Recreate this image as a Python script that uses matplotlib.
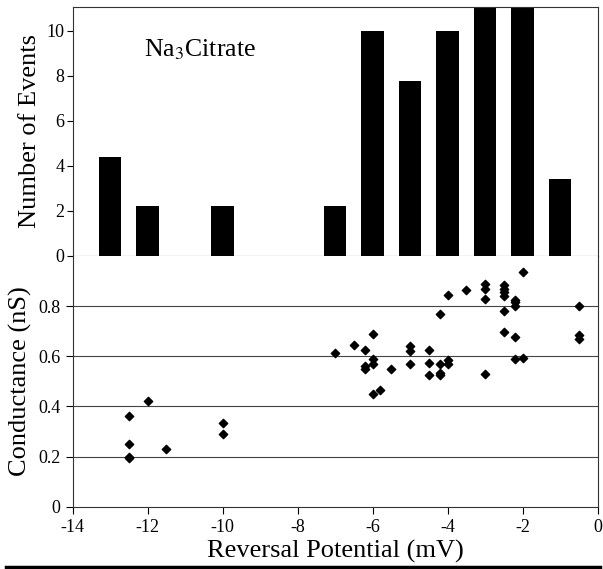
import matplotlib
matplotlib.use("Agg")
import matplotlib.pyplot as plt
from matplotlib.lines import Line2D

plt.rcParams['font.family'] = ['Liberation Serif', 'DejaVu Serif']
plt.rcParams['axes.unicode_minus'] = False

# Histogram data
bin_centers = [-13, -12, -10, -7, -6, -5, -4, -3, -2, -1]
counts = [4.4, 2.2, 2.2, 2.2, 10, 7.75, 10, 12, 12, 3.4]

# Scatter data
rev_potential = [-12.5, -12.5, -12.5, -12.5, -12, -11.5, -10, -10,
                 -7, -6.5, -6.2, -6, -6, -6, -6.2, -6.2, -6, -5.8, -5.5,
                 -5, -5, -5, -4.5, -4.5, -4.5, -4.2, -4.2, -4.2, -4, -4,
                 -4.2, -4, -3.5, -3, -3, -3, -3,
                 -2.5, -2.5, -2.5, -2.5, -2.5, -2.5,
                 -2.2, -2.2, -2.2, -2.2, -2.2, -2, -2,
                 -0.5, -0.5, -0.5]
conductance = [0.36, 0.25, 0.20, 0.195, 0.42, 0.23, 0.335, 0.29,
               0.615, 0.645, 0.625, 0.69, 0.59, 0.57, 0.56, 0.55, 0.45, 0.465, 0.55,
               0.64, 0.62, 0.57, 0.625, 0.575, 0.525, 0.57, 0.535, 0.525, 0.585, 0.57,
               0.77, 0.845, 0.865, 0.89, 0.87, 0.83, 0.53,
               0.885, 0.87, 0.855, 0.84, 0.78, 0.695,
               0.825, 0.815, 0.80, 0.675, 0.59, 0.935, 0.595,
               0.80, 0.685, 0.67]

hist_yticks = [0, 2, 4, 6, 8, 10]
cond_yticks = [0, 0.2, 0.4, 0.6, 0.8]
cond_yticklabels = ['0', '0.2', '0.4', '0.6', '0.8']
x_ticks = [-14, -12, -10, -8, -6, -4, -2, 0]

fig = plt.figure(figsize=(6.03, 5.69), dpi=100)
left, right = 0.1206, 0.991
ax1 = fig.add_axes([left, 0.5501, right - left, 0.9877 - 0.5501])
ax2 = fig.add_axes([left, 0.1095, right - left, 0.5501 - 0.1095])

# Top histogram
ax1.bar(bin_centers, counts, width=0.6, color='black')
ax1.set_xlim(-14, 0)
ax1.set_ylim(0, 11.05)
ax1.set_yticks(hist_yticks)
ax1.set_xticks(list(range(-13, 0)))
ax1.set_xticklabels([])
ax1.tick_params(axis='x', direction='out', length=5, width=0.8, color='#333333')
ax1.tick_params(axis='y', direction='out', length=4, width=0.8, labelsize=13, pad=2)
ax1.set_ylabel('Number of Events', fontsize=19, labelpad=4)
ax1.text(-10.6, 9.15, 'Na$_3$Citrate', fontsize=18.5, ha='center', va='center',
         math_fontfamily='stix')
for s in ax1.spines.values():
    s.set_linewidth(0.8)
    s.set_color('#333333')

# Bottom scatter
for yv in [0.2, 0.4, 0.6, 0.8]:
    ax2.axhline(yv, color='#444444', linewidth=0.8, zorder=0)
ax2.scatter(rev_potential, conductance, marker='D', s=18, color='black', zorder=3)
ax2.set_xlim(-14, 0)
ax2.set_ylim(0, 1.0)
ax2.set_yticks(cond_yticks)
ax2.set_yticklabels(cond_yticklabels)
ax2.set_xticks(x_ticks)
ax2.tick_params(axis='both', direction='out', length=5, width=0.8, labelsize=13, pad=4)
ax2.set_xlabel('Reversal Potential (mV)', fontsize=19, labelpad=3)
ax2.set_ylabel('Conductance (nS)', fontsize=19, labelpad=4)
ax2.spines['top'].set_visible(False)
for s in ax2.spines.values():
    s.set_linewidth(0.8)
    s.set_color('#333333')

# Thick rule at the bottom of the figure
fig.add_artist(Line2D([0.01, 0.995], [1 - 566.5 / 569, 1 - 566.5 / 569],
                      transform=fig.transFigure, color='black', linewidth=2.5))

fig.savefig('out.png', dpi=100)
